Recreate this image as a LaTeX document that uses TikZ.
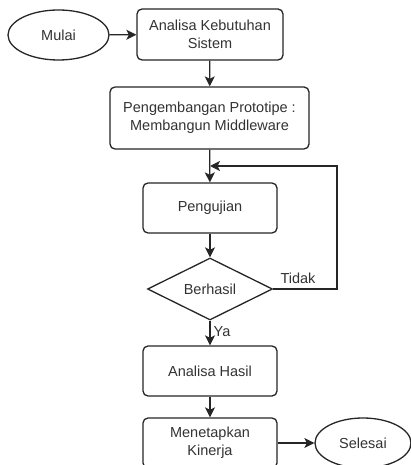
\documentclass[tikz,border=0pt]{standalone}
\usepackage{fontspec}
\setmainfont{Liberation Sans}
\usetikzlibrary{shapes.geometric,arrows.meta}
\tikzset{
  every node/.style={font=\fontsize{14.5}{18}\selectfont, text=black!80, align=center, inner sep=0pt},
  procbox/.style={draw=black!85, line width=1.3pt, rounded corners=5pt, rectangle},
  terminal/.style={draw=black!85, line width=1.3pt, ellipse},
  decision/.style={draw=black!85, line width=1.3pt, diamond, aspect=2},
  flow/.style={draw=black!85, line width=1.3pt, -{Stealth[length=10pt,width=10pt,inset=2.5pt]}},
  plain/.style={draw=black!85, line width=1.3pt}
}
\begin{document}
\begin{tikzpicture}[x=1pt,y=-1pt]
\useasboundingbox (0,0) rectangle (411,465);
\clip (0,0) rectangle (411,465);
\fill[white] (0,0) rectangle (411,465);

% start and end terminals
\node[terminal, minimum width=101pt, minimum height=50pt] (mulai) at (58.5,35) {Mulai};
\node[terminal, minimum width=96pt, minimum height=50pt] (selesai) at (363,443) {Selesai};

% process steps
\node[procbox, minimum width=146pt, minimum height=51pt] (kebutuhan) at (210,34.5) {Analisa Kebutuhan\\Sistem};
\node[procbox, minimum width=199pt, minimum height=62pt] (prototipe) at (209.5,118) {Pengembangan Prototipe :\\Membangun Middleware};
\node[procbox, minimum width=134pt, minimum height=50pt] (uji) at (210,208) {Pengujian};
\node[decision, minimum width=125pt, minimum height=62pt] (hasil) at (210,289) {Berhasil};
\node[procbox, minimum width=134pt, minimum height=50pt] (analisa) at (210,371) {Analisa Hasil};
\node[procbox, minimum width=134pt, minimum height=50pt] (kinerja) at (210,443) {Menetapkan\\Kinerja};

% junction where the retry loop rejoins the main line
\coordinate (join) at (210,166);
\coordinate (loopcorner1) at (337,289);
\coordinate (loopcorner2) at (337,166);

% connectors
\draw[flow] (mulai) -- (kebutuhan);
\draw[flow] (kebutuhan) -- (prototipe);
\draw[flow] (prototipe) -- (uji);
\draw[flow] (uji) -- (hasil);
\draw[flow] (hasil.east) -- (loopcorner1) -- (loopcorner2) -- (join);
\draw[flow] (hasil) -- node[pos=0.45, right=3pt] {Ya} (analisa);
\draw[flow] (analisa) -- (kinerja);
\draw[flow] (kinerja) -- (selesai);

% branch label
\node (tidak) at (298,278) {Tidak};
\end{tikzpicture}
\end{document}
